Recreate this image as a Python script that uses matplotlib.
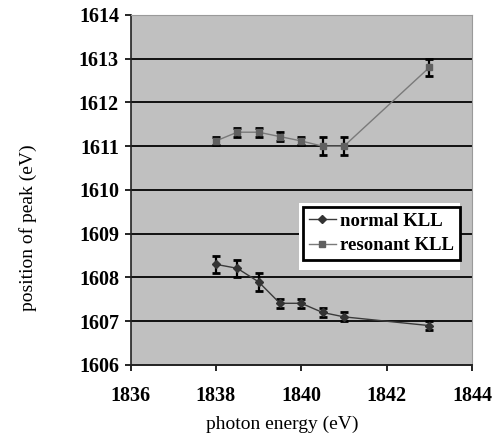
import matplotlib
matplotlib.use('Agg')
import matplotlib.pyplot as plt
from matplotlib.lines import Line2D
from matplotlib.patches import Rectangle

# photon energy (eV)
energy = [1838, 1838.5, 1839, 1839.5, 1840, 1840.5, 1841, 1843]

# normal KLL peak position and error
normal_pos = [1608.3, 1608.21, 1607.9, 1607.41, 1607.41, 1607.2, 1607.1, 1606.9]
normal_err = [0.2, 0.2, 0.2, 0.1, 0.1, 0.1, 0.1, 0.1]

# resonant KLL peak position and error
resonant_pos = [1611.12, 1611.32, 1611.32, 1611.22, 1611.12, 1611.0, 1611.0, 1612.8]
resonant_err = [0.1, 0.1, 0.1, 0.1, 0.1, 0.2, 0.2, 0.2]

plt.rcParams['font.family'] = ['Liberation Serif', 'DejaVu Serif']

fig = plt.figure(figsize=(5.01, 4.37), dpi=100)
ax = fig.add_axes([0.2605, 0.1648, 0.6816, 0.801])
ax.set_facecolor('#c0c0c0')

for y in range(1607, 1614):
    ax.axhline(y, color='#111111', lw=1.4, zorder=1)

normal_style = dict(color='#3a3a3a', lw=1.0, marker='D', ms=4,
                    mfc='#333333', mec='#333333')
resonant_style = dict(color='#7a7a7a', lw=1.0, marker='s', ms=5,
                      mfc='#606060', mec='#606060')

ax.errorbar(energy, normal_pos, yerr=normal_err, ecolor='black',
            elinewidth=1.6, capsize=2.6, capthick=2.0, zorder=3, **normal_style)
ax.errorbar(energy, resonant_pos, yerr=resonant_err, ecolor='black',
            elinewidth=1.6, capsize=2.6, capthick=2.0, zorder=3, **resonant_style)

ax.set_xlim(1836, 1844)
ax.set_ylim(1606, 1614)
ax.set_xticks(range(1836, 1845, 2))
ax.set_yticks(range(1606, 1615))
ax.tick_params(direction='out', length=4.3, width=1.2, labelsize=14.5)
ax.tick_params(axis='x', pad=11)
ax.tick_params(axis='y', pad=4)
for lab in ax.get_xticklabels() + ax.get_yticklabels():
    lab.set_fontweight('bold')

ax.spines['top'].set_color('#9a9a9a')
ax.spines['right'].set_color('#9a9a9a')
ax.spines['left'].set_color('#222222')
ax.spines['bottom'].set_color('#222222')
ax.spines['left'].set_linewidth(1.2)
ax.spines['bottom'].set_linewidth(1.4)

ax.set_xlabel('photon energy (eV)', fontsize=14)
ax.xaxis.set_label_coords(0.445, -0.145)
ax.set_ylabel('position of peak (eV)', fontsize=14)
ax.yaxis.set_label_coords(-0.275, 0.391)

# white area behind the legend box
ax.add_patch(Rectangle((0.493, 0.271), 0.472, 0.192, transform=ax.transAxes,
                       facecolor='white', edgecolor='none', zorder=4))

handles = [Line2D([], [], **normal_style), Line2D([], [], **resonant_style)]
leg = ax.legend(handles, ['normal KLL', 'resonant KLL'],
                loc='upper left', bbox_to_anchor=(0.505, 0.451),
                borderaxespad=0,
                prop={'weight': 'bold', 'size': 13.5}, fancybox=False,
                framealpha=1, edgecolor='black', handlelength=1.45,
                borderpad=0.3, labelspacing=0.4, handletextpad=0.25)
leg.get_frame().set_linewidth(2.0)
leg.set_zorder(5)

fig.savefig('out.png', dpi=100)
